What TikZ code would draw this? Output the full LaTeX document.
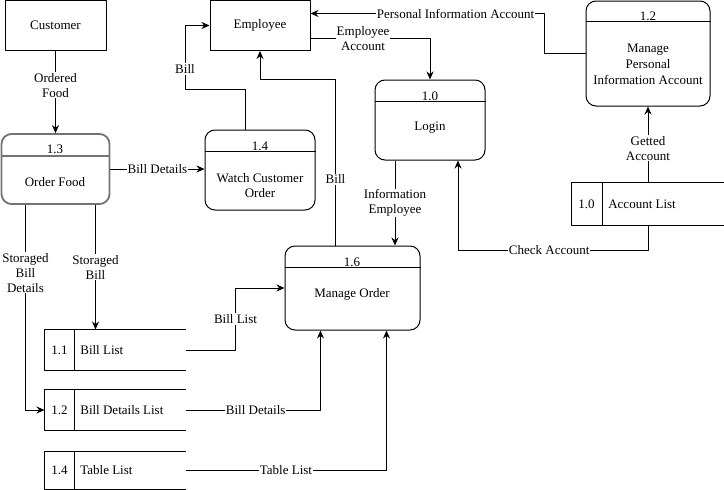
\documentclass[tikz,border=0pt]{standalone}
\usepackage{fontspec}
\setmainfont{Liberation Serif}
\usetikzlibrary{arrows.meta}

\begin{document}
\begin{tikzpicture}[x=1pt, y=-1pt, line width=1pt, line join=round, >={Stealth[length=8pt,width=7pt]},
		font=\fontsize{13}{15}\selectfont,
		entity/.style={draw, minimum width=101, minimum height=50},
		proc/.style={draw, rounded corners=10},
		store/.style={minimum width=140, minimum height=40},
		lbl/.style={fill=white, inner sep=1pt, align=center}]
	\useasboundingbox (0,0) rectangle (724,490);
	% external entities
	\node[entity] (customer) at (55.5,25) {Customer};
	\node[entity, minimum width=100] (employee) at (260,25.5) {Employee};
	% processes
	\node[proc, draw=black!55, line width=1.8pt, minimum width=108, minimum height=70] (orderfood) at (55.5,169) {};
	\draw[black!55, line width=1.8pt] ([yshift=-23]orderfood.north west) -- ([yshift=-23]orderfood.north east);
	\node (orderfood-id) at (55,149) {1.3};
	\node (orderfood-txt) at (55,182) {Order Food};
	\node[proc, minimum width=110, minimum height=80] (watch) at (260,170) {};
	\draw ([yshift=-22]watch.north west) -- ([yshift=-22]watch.north east);
	\node (watch-id) at (260,146) {1.4};
	\node[align=center] (watch-txt) at (260,185.5) {Watch Customer\\Order};
	\node[proc, minimum width=110, minimum height=80] (login) at (430,120) {};
	\draw ([yshift=-22]login.north west) -- ([yshift=-22]login.north east);
	\node (login-id) at (430,96) {1.0};
	\node (login-txt) at (430,128) {Login};
	\node[proc, minimum width=124, minimum height=105] (mpi) at (648,53.5) {};
	\draw ([yshift=-21]mpi.north west) -- ([yshift=-21]mpi.north east);
	\node (mpi-id) at (648,16) {1.2};
	\node[align=center, font=\fontsize{13}{16}\selectfont] (mpi-txt) at (648,64) {Manage\\Personal\\Information Account};
	\node[proc, minimum width=135, minimum height=84] (manage) at (352.5,288) {};
	\draw ([yshift=-22]manage.north west) -- ([yshift=-22]manage.north east);
	\node (manage-id) at (352,262) {1.6};
	\node (manage-txt) at (352,294) {Manage Order};
	% data stores
	\node[store] (billlist) at (115,350) {};
	\draw (billlist.north east) -- (billlist.north west) -- (billlist.south west) -- (billlist.south east);
	\draw ([xshift=30]billlist.north west) -- ([xshift=30]billlist.south west);
	\node (billlist-id) at ([xshift=15]billlist.west) {1.1};
	\node[anchor=west] (billlist-txt) at ([xshift=32]billlist.west) {Bill List};
	\node[store] (billdet) at (115,410) {};
	\draw (billdet.north east) -- (billdet.north west) -- (billdet.south west) -- (billdet.south east);
	\draw ([xshift=30]billdet.north west) -- ([xshift=30]billdet.south west);
	\node (billdet-id) at ([xshift=15]billdet.west) {1.2};
	\node[anchor=west] (billdet-txt) at ([xshift=32]billdet.west) {Bill Details List};
	\node[store, minimum height=37] (tablelist) at (115,470.5) {};
	\draw (tablelist.north east) -- (tablelist.north west) -- (tablelist.south west) -- (tablelist.south east);
	\draw ([xshift=30]tablelist.north west) -- ([xshift=30]tablelist.south west);
	\node (tablelist-id) at ([xshift=15]tablelist.west) {1.4};
	\node[anchor=west] (tablelist-txt) at ([xshift=32]tablelist.west) {Table List};
	\node[store, minimum width=152, minimum height=42] (acclist) at (648,204) {};
	\draw (acclist.north east) -- (acclist.north west) -- (acclist.south west) -- (acclist.south east);
	\draw ([xshift=31]acclist.north west) -- ([xshift=31]acclist.south west);
	\node (acclist-id) at ([xshift=15]acclist.west) {1.0};
	\node[anchor=west] (acclist-txt) at ([xshift=33]acclist.west) {Account List};
	% flows
	\draw[->] (customer.south) -- node[lbl, pos=0.42] {Ordered\\Food} (orderfood.north);
	\draw[->] (orderfood.east) -- node[lbl] {Bill Details} (watch.west |- orderfood.east);
	\draw[->] ([xshift=-15]watch.north) -- ++(0,-40) -- ++(-60,0) |- node[lbl, pos=0.16] {Bill} (employee.west);
	\draw[->] ([yshift=-13]employee.east) -- node[lbl, pos=0.44] {Employee\\Account} ([yshift=-13]employee.east -| login.north) -- (login.north);
	\draw[->] (mpi.west) -- ++(-41,0) |- node[lbl, pos=0.69] {Personal Information Account} ([yshift=12]employee.east);
	\draw[->] (acclist.north) -- node[lbl, pos=0.45] {Getted\\Account} (mpi.south);
	\draw[->] (acclist.south) -- ++(0,25) -| node[lbl, pos=0.26] {Check Account} ([xshift=28]login.south);
	\draw[->] ([xshift=-35]login.south) -- node[lbl] {Information\\Employee} ([xshift=-35]login.south |- manage.north);
	\draw[->] ([xshift=-17]manage.north) -- node[lbl, pos=0.4] {Bill} ++(0,-166) -| (employee.south);
	\draw[->] ([xshift=40]orderfood.south) -- node[lbl] {Storaged\\Bill} ([xshift=40]orderfood.south |- billlist.north);
	\draw[->] ([xshift=-30]orderfood.south) |- node[lbl, pos=0.165] {Storaged\\Bill\\Details} (billdet.west);
	\draw[->] (billlist.east) -- ++(50,0) |- node[lbl, pos=0.25] {Bill List} (manage.west);
	\draw[->] (billdet.east) -| node[lbl, pos=0.26] {Bill Details} ([xshift=-32]manage.south);
	\draw[->] (tablelist.east) -| node[lbl, pos=0.25] {Table List} ([xshift=34]manage.south);
\end{tikzpicture}
\end{document}
